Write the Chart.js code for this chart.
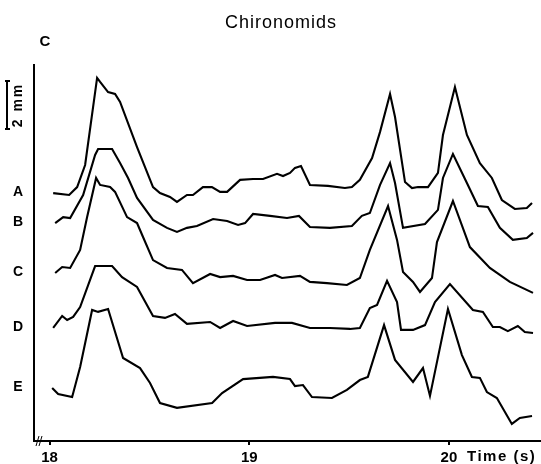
<!DOCTYPE html>
<html>
<head>
<meta charset="utf-8">
<script src="https://cdn.jsdelivr.net/npm/chart.js@4"></script>
<style>
  html, body { margin: 0; padding: 0; background: #fff; }
  canvas { display: block; }
</style>
</head>
<body>
<canvas id="c" width="541" height="464"></canvas>
<script>
// ---- Data (time in s, displacement in mm above the time axis) ----
const traceNames = ["A", "B", "C", "D", "E"];
const xTicks = [18, 19, 20];

const tA = [18.018,18.098,18.138,18.178,18.238,18.253,18.293,18.328,18.353,18.438,18.518,18.553,18.603,18.638,18.688,18.718,18.768,18.813,18.854,18.889,18.954,19.019,19.069,19.139,19.169,19.204,19.229,19.259,19.304,19.394,19.479,19.514,19.554,19.615,19.655,19.705,19.730,19.780,19.815,19.845,19.895,19.945,19.970,20.030,20.090,20.155,20.215,20.265,20.330,20.390,20.416];
const yA = [10.33,10.25,10.58,11.5,15.13,14.96,14.54,14.46,14.13,12.25,10.58,10.33,10.17,9.96,10.25,10.25,10.58,10.58,10.38,10.38,10.88,10.92,10.92,11.13,11.04,11.17,11.38,11.46,10.67,10.63,10.54,10.58,10.88,11.79,12.88,14.46,13.5,10.79,10.54,10.58,10.58,11.17,12.75,14.75,12.75,11.58,10.96,10.04,9.67,9.71,9.92];

const tB = [18.028,18.068,18.103,18.168,18.228,18.243,18.313,18.353,18.393,18.438,18.518,18.588,18.638,18.688,18.738,18.819,18.889,18.944,18.979,19.019,19.104,19.189,19.249,19.304,19.404,19.514,19.564,19.604,19.655,19.705,19.730,19.770,19.880,19.945,19.970,20.020,20.090,20.145,20.195,20.255,20.320,20.390,20.421];
const yB = [9.08,9.33,9.29,10.25,11.92,12.17,12.17,11.58,10.96,10.13,9.21,8.88,8.71,8.88,8.96,9.25,9.17,9.0,9.08,9.46,9.38,9.29,9.38,8.92,8.88,8.96,9.38,9.5,10.67,11.58,10.75,8.88,9.04,9.63,10.96,11.96,10.75,9.79,9.75,8.88,8.38,8.46,8.67];

const tC = [18.028,18.063,18.103,18.153,18.188,18.233,18.253,18.303,18.328,18.388,18.438,18.468,18.518,18.588,18.663,18.718,18.804,18.854,18.919,18.989,19.054,19.129,19.164,19.254,19.304,19.389,19.489,19.554,19.604,19.695,19.740,19.770,19.820,19.855,19.915,19.940,20.020,20.105,20.205,20.305,20.421];
const yC = [7.0,7.25,7.21,7.96,9.33,10.96,10.67,10.58,10.38,9.33,9.08,8.5,7.54,7.21,7.13,6.58,6.96,6.83,6.88,6.71,6.71,6.92,6.79,6.88,6.63,6.58,6.5,6.79,7.96,9.79,8.38,7.04,6.63,6.21,6.79,8.29,10.0,8.08,7.21,6.63,6.17];

const tD = [18.018,18.063,18.088,18.118,18.153,18.228,18.313,18.363,18.438,18.518,18.578,18.628,18.688,18.804,18.854,18.919,18.989,19.129,19.214,19.304,19.404,19.504,19.554,19.604,19.640,19.690,19.740,19.760,19.820,19.880,19.930,20.005,20.120,20.170,20.220,20.255,20.295,20.345,20.380,20.421];
const yD = [4.71,5.21,5.04,5.17,5.58,7.29,7.29,6.83,6.42,5.21,5.13,5.29,4.88,4.96,4.71,5.0,4.79,4.92,4.92,4.71,4.71,4.67,4.71,5.54,5.67,6.67,5.79,4.63,4.63,4.83,5.79,6.54,5.46,5.38,4.75,4.75,4.58,4.79,4.54,4.5];

const tE = [18.013,18.043,18.113,18.153,18.213,18.243,18.293,18.368,18.453,18.503,18.553,18.638,18.814,18.864,18.969,19.119,19.204,19.229,19.269,19.314,19.414,19.489,19.554,19.594,19.675,19.730,19.820,19.870,19.905,19.995,20.065,20.115,20.155,20.190,20.240,20.315,20.355,20.416];
const yE = [2.21,1.96,1.83,3.08,5.46,5.38,5.5,3.46,3.04,2.42,1.58,1.38,1.58,2.0,2.58,2.67,2.58,2.29,2.33,1.83,1.79,2.13,2.54,2.67,4.83,3.38,2.46,3.04,1.88,5.5,3.58,2.67,2.63,2.04,1.79,0.71,0.96,1.04];

const scaleBarMM = 2;

// ---- Build datasets ----
const times = [tA, tB, tC, tD, tE];
const values = [yA, yB, yC, yD, yE];
const FONT = "'Liberation Sans', Arial, Helvetica, sans-serif";

const datasets = traceNames.map((name, i) => ({
  label: name,
  data: times[i].map((t, k) => ({ x: t, y: values[i][k] })),
  borderColor: '#000',
  borderWidth: 2.1,
  pointRadius: 0,
  tension: 0,
  fill: false
}));

const decor = {
  id: 'decor',
  afterDraw(chart) {
    const ctx = chart.ctx;
    const xs = chart.scales.x, ys = chart.scales.y;
    ctx.save();
    ctx.fillStyle = '#000';
    ctx.strokeStyle = '#000';

    // title
    ctx.font = `500 18px ${FONT}`;
    ctx.letterSpacing = '1px';
    ctx.textAlign = 'center';
    ctx.textBaseline = 'middle';
    ctx.fillText('Chironomids', 281, 23);

    // panel letter
    ctx.font = `bold 15px ${FONT}`;
    ctx.letterSpacing = '0px';
    ctx.fillText('C', 45, 42);

    // trace labels
    ctx.font = `bold 14px ${FONT}`;
    traceNames.forEach((n, i) => {
      ctx.fillText(n, 18, ys.getPixelForValue(values[i][0]) - 1);
    });

    // scale bar
    const yTop = ys.getPixelForValue(15);
    const yBot = ys.getPixelForValue(15 - scaleBarMM);
    ctx.lineWidth = 2;
    ctx.beginPath();
    ctx.moveTo(7, yTop); ctx.lineTo(7, yBot);
    ctx.moveTo(5, yTop); ctx.lineTo(10, yTop);
    ctx.moveTo(5, yBot); ctx.lineTo(10, yBot);
    ctx.stroke();
    ctx.save();
    ctx.translate(18, (yTop + yBot) / 2);
    ctx.rotate(-Math.PI / 2);
    ctx.font = `bold 14px ${FONT}`;
    ctx.letterSpacing = '2px';
    ctx.textAlign = 'center';
    ctx.textBaseline = 'middle';
    ctx.fillText(scaleBarMM + ' mm', 0, 0);
    ctx.restore();

    // axis title
    ctx.font = `bold 15px ${FONT}`;
    ctx.letterSpacing = '1.5px';
    ctx.textAlign = 'left';
    ctx.textBaseline = 'middle';
    ctx.fillText('Time (s)', 467, 457);

    // axis break mark
    const bx = xs.left + 4, by = xs.top;
    ctx.lineWidth = 1;
    ctx.letterSpacing = '0px';
    ctx.beginPath();
    ctx.moveTo(bx - 2, by + 5); ctx.lineTo(bx + 1, by - 5);
    ctx.moveTo(bx + 1, by + 5); ctx.lineTo(bx + 4, by - 5);
    ctx.stroke();
    ctx.restore();
  }
};

new Chart(document.getElementById('c'), {
  type: 'line',
  data: { datasets },
  options: {
    responsive: false,
    animation: false,
    parsing: true,
    layout: { padding: { left: 34, top: 65, right: 0, bottom: 0 } },
    plugins: { legend: { display: false }, tooltip: { enabled: false }, title: { display: false } },
    scales: {
      x: {
        type: 'linear',
        min: 17.922,
        max: 20.461,
        afterBuildTicks: s => { s.ticks = xTicks.map(v => ({ value: v })); },
        afterFit: s => { s.height = 23; },
        ticks: { color: '#000', font: { family: FONT, size: 15, weight: 'bold' }, padding: 4, maxRotation: 0 },
        grid: { display: true, drawOnChartArea: false, drawTicks: true, tickLength: 4, color: '#000', lineWidth: 2 },
        border: { display: true, color: '#000', width: 2 }
      },
      y: {
        type: 'linear',
        min: 0,
        max: 15.667,
        afterFit: s => { s.width = 0; },
        ticks: { display: false },
        grid: { display: false, drawTicks: false },
        border: { display: true, color: '#000', width: 2 }
      }
    }
  },
  plugins: [decor]
});
</script>
</body>
</html>
